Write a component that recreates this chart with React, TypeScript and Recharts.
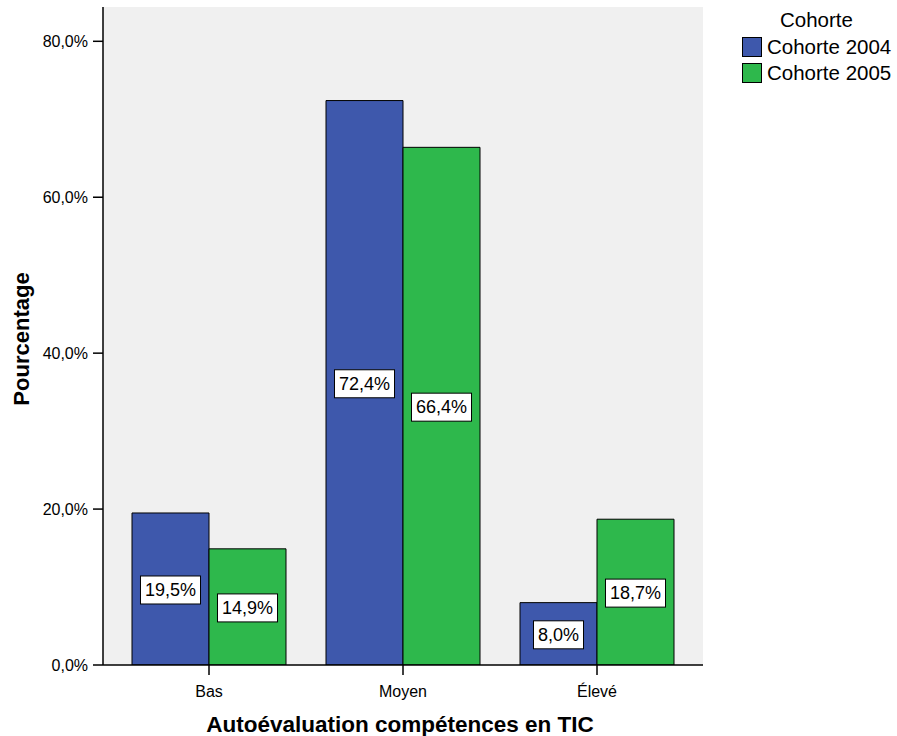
import React from 'react';
import { BarChart, Bar, XAxis, YAxis, CartesianGrid, LabelList, Legend, Label } from 'recharts';

const categories = ['Bas', 'Moyen', 'Élevé'];
const cohorte2004 = [19.5, 72.4, 8.0];
const cohorte2005 = [14.9, 66.4, 18.7];
const yTicks = [0, 20, 40, 60, 80];
const seriesNames = ['Cohorte 2004', 'Cohorte 2005'];
const seriesColors = ['#3e58ac', '#2eb84c'];

const data = categories.map((c, i) => ({ cat: c, c2004: cohorte2004[i], c2005: cohorte2005[i] }));

const FONT = '"Liberation Sans", Arial, sans-serif';

const fmt = (v: number) => v.toFixed(1).replace('.', ',') + '%';

const textWidth = (s: string, size: number) => {
  let w = 0;
  for (const ch of s) {
    if (ch === ',' ) w += 0.278;
    else if (ch === '%') w += 0.889;
    else w += 0.556;
  }
  return w * size;
};

const BoxLabel = (props: any) => {
  const { x, y, width, height, value } = props;
  const s = fmt(Number(value));
  const fs = 18;
  const bw = textWidth(s, fs) + 9;
  const bh = 28;
  const cx = Number(x) + Number(width) / 2;
  const cy = Number(y) + Number(height) / 2 + 1;
  return (
    <g>
      <rect x={cx - bw / 2} y={cy - bh / 2} width={bw} height={bh} fill="#ffffff" stroke="#000000" strokeWidth={1} />
      <text x={cx} y={cy} textAnchor="middle" dominantBaseline="central" fontSize={fs} fontFamily={FONT} fill="#000">
        {s}
      </text>
    </g>
  );
};

const LegendContent = () => (
  <div style={{ fontFamily: FONT, fontSize: 20.5, color: '#000', width: 159 }}>
    <div style={{ height: 24, lineHeight: '24px', marginLeft: 42, marginBottom: 2 }}>Cohorte</div>
    {seriesNames.map((n, i) => (
      <div key={n} style={{ display: 'flex', alignItems: 'center', height: 26 }}>
        <div
          style={{
            marginLeft: 4,
            width: 20,
            height: 20,
            boxSizing: 'border-box',
            border: '1.5px solid #000',
            background: seriesColors[i],
          }}
        />
        <span style={{ marginLeft: 5, lineHeight: '26px' }}>{n}</span>
      </div>
    ))}
  </div>
);

export default function App() {
  return (
    <div style={{ position: 'absolute', left: 0, top: 0, fontFamily: FONT }}>
      <BarChart
        width={897}
        height={736}
        data={data}
        margin={{ top: 7, right: 194, bottom: 0, left: 0 }}
        barGap={0}
        barCategoryGap={20}
      >
        <CartesianGrid fill="#f0f0f0" horizontal={false} vertical={false} />
        <XAxis
          dataKey="cat"
          height={71}
          padding={{ left: 9, right: 9 }}
          tickSize={10}
          tickMargin={11}
          tick={{ fontSize: 16, fill: '#000', fontFamily: FONT }}
          axisLine={{ stroke: '#000', strokeWidth: 1.5 }}
          tickLine={{ stroke: '#000', strokeWidth: 1.5 }}
        >
          <Label
            content={(p: any) => {
              const vb = p.viewBox;
              return (
                <text
                  x={vb.x + vb.width / 2 - 3}
                  y={732}
                  textAnchor="middle"
                  fontSize={22.5}
                  fontWeight="bold"
                  fontFamily={FONT}
                  fill="#000"
                >
                  Autoévaluation compétences en TIC
                </text>
              );
            }}
          />
        </XAxis>
        <XAxis
          xAxisId="top"
          dataKey="cat"
          orientation="top"
          height={0}
          tick={false}
          tickLine={false}
          axisLine={{ stroke: '#888', strokeWidth: 1 }}
        />
        <YAxis
          width={103}
          domain={[0, 84.4]}
          ticks={yTicks}
          allowDataOverflow
          tickSize={10}
          tickMargin={5}
          tickFormatter={(v: number) => fmt(v)}
          tick={{ fontSize: 16, fill: '#000', fontFamily: FONT }}
          axisLine={{ stroke: '#000', strokeWidth: 1.5 }}
          tickLine={{ stroke: '#000', strokeWidth: 1.5 }}
        >
          <Label
            content={(p: any) => {
              const vb = p.viewBox;
              const cy = vb.y + vb.height / 2 + 3;
              return (
                <text
                  x={21}
                  y={cy}
                  transform={`rotate(-90 21 ${cy})`}
                  textAnchor="middle"
                  dominantBaseline="central"
                  fontSize={22}
                  fontWeight="bold"
                  fontFamily={FONT}
                  fill="#000"
                >
                  Pourcentage
                </text>
              );
            }}
          />
        </YAxis>
        <YAxis
          yAxisId="right"
          orientation="right"
          width={0}
          domain={[0, 84.4]}
          tick={false}
          tickLine={false}
          axisLine={{ stroke: '#888', strokeWidth: 1 }}
        />
        <Legend
          layout="vertical"
          align="center"
          verticalAlign="middle"
          content={<LegendContent />}
          wrapperStyle={{ position: 'absolute', left: 738, top: 8, width: 159, right: 'auto', bottom: 'auto' }}
        />
        <Bar dataKey="c2004" name={seriesNames[0]} fill={seriesColors[0]} stroke="#000" strokeWidth={1} isAnimationActive={false}>
          <LabelList dataKey="c2004" content={<BoxLabel />} />
        </Bar>
        <Bar dataKey="c2005" name={seriesNames[1]} fill={seriesColors[1]} stroke="#000" strokeWidth={1} isAnimationActive={false}>
          <LabelList dataKey="c2005" content={<BoxLabel />} />
        </Bar>
      </BarChart>
    </div>
  );
}
